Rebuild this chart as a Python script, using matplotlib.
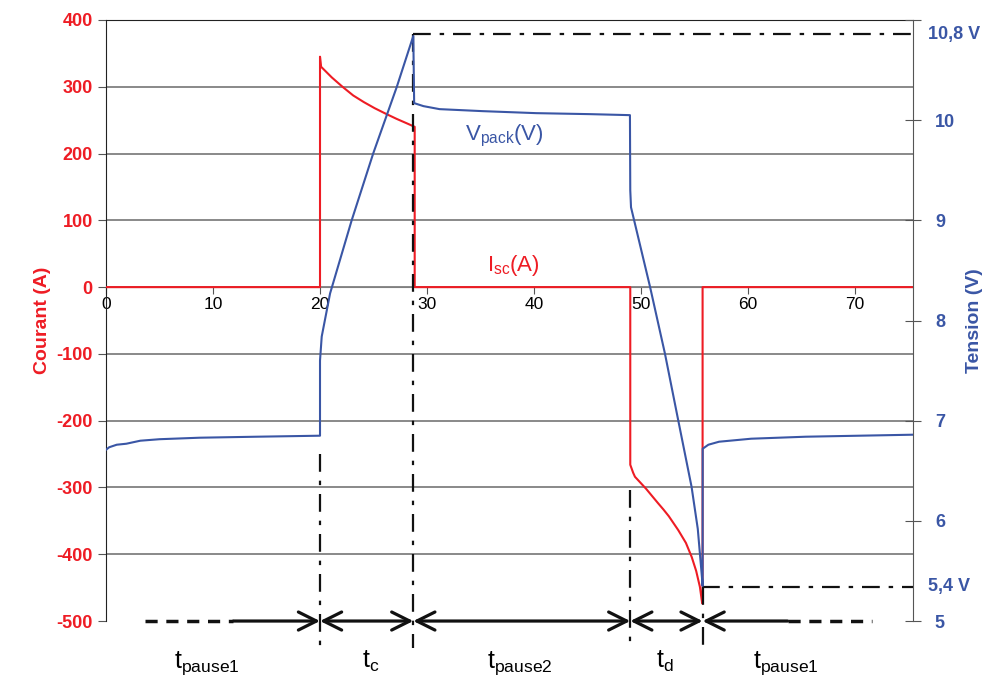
# Supercapacitor pack: current and voltage over a charge / discharge cycle
import matplotlib.pyplot as plt
import numpy as np

plt.rcParams['font.family'] = ['Liberation Sans', 'DejaVu Sans']
plt.rcParams['mathtext.fontset'] = 'custom'
plt.rcParams['mathtext.rm'] = 'Liberation Sans'
plt.rcParams['axes.unicode_minus'] = False

RED = '#ee1c24'
BLUE = '#3a56a5'

# current I_sc (A) vs time (s)
t_cur = [0, 20, 20, 20.1, 21.1, 22.1, 23.1, 24.1, 25.1, 26.1, 27.15, 28.15, 28.85, 28.85,
         49.0, 49.0, 49.27, 49.44, 50.48, 51.1, 51.62, 52.1, 52.6, 53.49, 54.2, 54.74, 55.16,
         55.51, 55.71, 55.76, 55.76, 75.4]
i_cur = [0, 0, 345, 330, 314, 300, 287, 277, 268, 260, 252, 245, 240, 0,
         0, -266, -278, -284, -302, -314, -324, -333, -343, -364, -383, -404, -425,
         -449, -472, -474, 0, 0]

# pack voltage V_pack (V) vs time (s)
t_volt = [0, 0.3, 1, 1.9, 3.2, 5, 8.75, 14.1, 20, 20, 20.16, 20.94, 22.96, 24.98, 27.17, 28.72,
          28.8, 29.67, 31.17, 35.2, 40.2, 45.25, 48.97, 49.0, 49.07, 50.84, 52.24, 53.49,
          54.73, 55.31, 55.73, 55.76, 55.77, 56.3, 57.3, 58.3, 60.3, 65.4, 70.4, 75.4]
v_pack = [6.71, 6.735, 6.76, 6.77, 6.80, 6.815, 6.83, 6.84, 6.85, 7.60, 7.84, 8.27, 9.00, 9.67,
          10.33, 10.84, 10.17, 10.14, 10.11, 10.09, 10.07, 10.06, 10.05, 9.30, 9.13, 8.34, 7.67,
          7.00, 6.34, 5.92, 5.40, 5.35, 6.72, 6.76, 6.79, 6.80, 6.82, 6.84, 6.85, 6.86]

# phase boundaries and labels
t_bounds = [20, 28.72, 49.0, 55.76]
phase_x = [9.4, 24.7, 38.7, 52.2, 63.5]
phase_labels = ['pause1', 'c', 'pause2', 'd', 'pause1']
v_max, v_min = 10.86, 5.34

fig = plt.figure(figsize=(9.91, 6.82), dpi=100)
ax = fig.add_axes([0.107, 0.0894, 0.814, 0.8813])
ax2 = ax.twinx()

ax.set_xlim(0, 75.4)
ax.set_ylim(-500, 400)
ax2.set_ylim(5, 11)

# grid
for y in range(-400, 400, 100):
    ax.axhline(y, color='#808080', lw=1.3, zorder=0)

ax.spines['bottom'].set_position(('data', 0))
ax.spines['bottom'].set_color('#808080')
ax.spines['top'].set_color('#222222')
ax.spines['left'].set_color('#222222')
for s in ['left', 'top', 'bottom', 'right']:
    ax2.spines[s].set_visible(False)
ax2.spines['right'].set_visible(True)
ax2.spines['right'].set_color('#555555')
ax.spines['right'].set_visible(False)

ax.set_xticks(range(0, 80, 10))
ax.tick_params(axis='x', direction='out', length=5, pad=2, labelsize=12.5, color='#555555')
ax.set_yticks(range(-500, 500, 100))
ax.tick_params(axis='y', direction='out', length=6, labelsize=13, labelcolor=RED, color='#555555')
for lab in ax.get_yticklabels():
    lab.set_fontweight('bold')
ax.set_ylabel('Courant (A)', color=RED, fontsize=14, fontweight='bold', labelpad=4)

ax2.set_yticks([5, 6, 7, 8, 9, 10, 11])
ax2.set_yticklabels(['5', '6', '7', '8', '9', '10', ''])
ax2.tick_params(axis='y', direction='inout', length=12, pad=10, labelsize=13,
                labelcolor=BLUE, color='#555555')
for lab in ax2.get_yticklabels():
    lab.set_fontweight('bold')
ax2.set_ylabel('Tension (V)', color=BLUE, fontsize=14, fontweight='bold', labelpad=8)

# curves
ax.plot(t_cur, i_cur, color=RED, lw=1.5, zorder=3)
ax2.plot(t_volt, v_pack, color=BLUE, lw=1.5, zorder=3)

# reference lines for max / min voltage
dd = dict(color='#111111', lw=1.6, linestyle=(0, (8, 4, 2, 4)))
ax2.plot([t_bounds[1], 75.4], [v_max, v_max], **dd)
ax2.plot([55.7, 75.4], [v_min, v_min], **dd)
ax2.text(1.019, v_max, '10,8 V', transform=ax2.get_yaxis_transform(), color=BLUE,
         fontsize=13, fontweight='bold', va='center', ha='left')
ax2.text(1.019, v_min, '5,4 V', transform=ax2.get_yaxis_transform(), color=BLUE,
         fontsize=13, fontweight='bold', va='center', ha='left')

# vertical boundaries
v_tops = [-250, 379, -304, -449]
for tb, top in zip(t_bounds, v_tops):
    ax.plot([tb, tb], [top, -540], clip_on=False, zorder=4, **dd)

# time-phase arrows along the bottom
y_arr = -500
ax.plot([3.65, 11.9], [y_arr, y_arr], color='#111111', lw=2.5, linestyle=(0, (3.5, 2.5)),
        clip_on=False)
ax.plot([63.7, 71.6], [y_arr, y_arr], color='#111111', lw=2.5, linestyle=(0, (3.5, 2.5)),
        clip_on=False)
segs = [(11.9, 20, '->')] + [(a, b, '<->') for a, b in zip(t_bounds[:-1], t_bounds[1:])] \
    + [(t_bounds[-1], 63.7, '<-')]
for a, b, style in segs:
    ax.annotate('', xy=(b, y_arr), xytext=(a, y_arr), annotation_clip=False,
                arrowprops=dict(arrowstyle=style + ',head_length=1.3,head_width=0.65',
                                lw=2.3, color='#111111', shrinkA=0, shrinkB=0,
                                mutation_scale=10))

for x, lab in zip(phase_x, phase_labels):
    ax.text(x, -570, r'$\mathregular{t_{%s}}$' % lab, fontsize=18, ha='center', va='baseline')

# series labels
ax.text(33.55, 227, r'$\mathregular{V_{pack}(V)}$', color=BLUE, fontsize=16, va='center')
ax.text(35.6, 33, r'$\mathregular{I_{sc}(A)}$', color=RED, fontsize=16, va='center')

fig.savefig('out.png', dpi=100)
